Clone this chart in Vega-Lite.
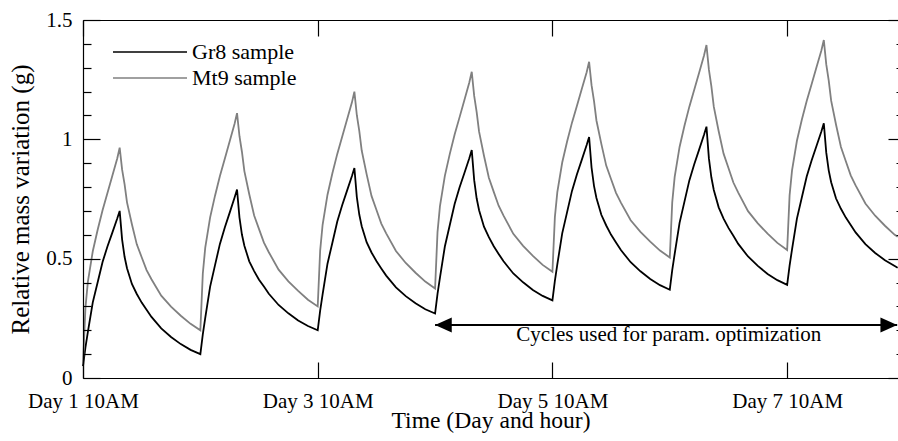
{
"$schema": "https://vega.github.io/schema/vega-lite/v6.json",
"width": 815, "height": 358,
"autosize": "none",
"padding": {"left": 83, "top": 20, "right": 0, "bottom": 63},
"background": "white",
"config": {"view": {"stroke": null}, "axis": {"grid": false}},
"datasets": {
  "mass": [
{"s":"Gr8 sample","t":0,"v":0.05},{"s":"Gr8 sample","t":0.5,"v":0.128},{"s":"Gr8 sample","t":1,"v":0.193},{"s":"Gr8 sample","t":2,"v":0.317},{"s":"Gr8 sample","t":3,"v":0.401},{"s":"Gr8 sample","t":4,"v":0.486},{"s":"Gr8 sample","t":5,"v":0.551},{"s":"Gr8 sample","t":6,"v":0.609},{"s":"Gr8 sample","t":7,"v":0.668},{"s":"Gr8 sample","t":7.5,"v":0.70},{"s":"Gr8 sample","t":8,"v":0.58},{"s":"Gr8 sample","t":8.5,"v":0.508},{"s":"Gr8 sample","t":9,"v":0.46},{"s":"Gr8 sample","t":10,"v":0.394},{"s":"Gr8 sample","t":11,"v":0.352},{"s":"Gr8 sample","t":12,"v":0.316},{"s":"Gr8 sample","t":13,"v":0.286},{"s":"Gr8 sample","t":14,"v":0.256},{"s":"Gr8 sample","t":16,"v":0.208},{"s":"Gr8 sample","t":18,"v":0.172},{"s":"Gr8 sample","t":20,"v":0.142},{"s":"Gr8 sample","t":22,"v":0.118},
{"s":"Gr8 sample","t":24,"v":0.10},{"s":"Gr8 sample","t":24.5,"v":0.183},{"s":"Gr8 sample","t":25,"v":0.252},{"s":"Gr8 sample","t":26,"v":0.383},{"s":"Gr8 sample","t":27,"v":0.473},{"s":"Gr8 sample","t":28,"v":0.562},{"s":"Gr8 sample","t":29,"v":0.631},{"s":"Gr8 sample","t":30,"v":0.693},{"s":"Gr8 sample","t":31,"v":0.756},{"s":"Gr8 sample","t":31.5,"v":0.79},{"s":"Gr8 sample","t":32,"v":0.672},{"s":"Gr8 sample","t":32.5,"v":0.601},{"s":"Gr8 sample","t":33,"v":0.554},{"s":"Gr8 sample","t":34,"v":0.489},{"s":"Gr8 sample","t":35,"v":0.448},{"s":"Gr8 sample","t":36,"v":0.412},{"s":"Gr8 sample","t":37,"v":0.383},{"s":"Gr8 sample","t":38,"v":0.353},{"s":"Gr8 sample","t":40,"v":0.306},{"s":"Gr8 sample","t":42,"v":0.271},{"s":"Gr8 sample","t":44,"v":0.241},{"s":"Gr8 sample","t":46,"v":0.218},
{"s":"Gr8 sample","t":48,"v":0.20},{"s":"Gr8 sample","t":48.5,"v":0.282},{"s":"Gr8 sample","t":49,"v":0.350},{"s":"Gr8 sample","t":50,"v":0.479},{"s":"Gr8 sample","t":51,"v":0.567},{"s":"Gr8 sample","t":52,"v":0.656},{"s":"Gr8 sample","t":53,"v":0.724},{"s":"Gr8 sample","t":54,"v":0.785},{"s":"Gr8 sample","t":55,"v":0.846},{"s":"Gr8 sample","t":55.5,"v":0.88},{"s":"Gr8 sample","t":56,"v":0.758},{"s":"Gr8 sample","t":56.5,"v":0.685},{"s":"Gr8 sample","t":57,"v":0.636},{"s":"Gr8 sample","t":58,"v":0.569},{"s":"Gr8 sample","t":59,"v":0.526},{"s":"Gr8 sample","t":60,"v":0.490},{"s":"Gr8 sample","t":61,"v":0.459},{"s":"Gr8 sample","t":62,"v":0.429},{"s":"Gr8 sample","t":64,"v":0.380},{"s":"Gr8 sample","t":66,"v":0.343},{"s":"Gr8 sample","t":68,"v":0.313},{"s":"Gr8 sample","t":70,"v":0.288},
{"s":"Gr8 sample","t":72,"v":0.27},{"s":"Gr8 sample","t":72.5,"v":0.352},{"s":"Gr8 sample","t":73,"v":0.421},{"s":"Gr8 sample","t":74,"v":0.551},{"s":"Gr8 sample","t":75,"v":0.640},{"s":"Gr8 sample","t":76,"v":0.729},{"s":"Gr8 sample","t":77,"v":0.798},{"s":"Gr8 sample","t":78,"v":0.859},{"s":"Gr8 sample","t":79,"v":0.921},{"s":"Gr8 sample","t":79.5,"v":0.955},{"s":"Gr8 sample","t":80,"v":0.829},{"s":"Gr8 sample","t":80.5,"v":0.753},{"s":"Gr8 sample","t":81,"v":0.703},{"s":"Gr8 sample","t":82,"v":0.634},{"s":"Gr8 sample","t":83,"v":0.590},{"s":"Gr8 sample","t":84,"v":0.552},{"s":"Gr8 sample","t":85,"v":0.520},{"s":"Gr8 sample","t":86,"v":0.489},{"s":"Gr8 sample","t":88,"v":0.438},{"s":"Gr8 sample","t":90,"v":0.401},{"s":"Gr8 sample","t":92,"v":0.369},{"s":"Gr8 sample","t":94,"v":0.344},
{"s":"Gr8 sample","t":96,"v":0.325},{"s":"Gr8 sample","t":96.5,"v":0.407},{"s":"Gr8 sample","t":97,"v":0.476},{"s":"Gr8 sample","t":98,"v":0.606},{"s":"Gr8 sample","t":99,"v":0.695},{"s":"Gr8 sample","t":100,"v":0.784},{"s":"Gr8 sample","t":101,"v":0.853},{"s":"Gr8 sample","t":102,"v":0.914},{"s":"Gr8 sample","t":103,"v":0.976},{"s":"Gr8 sample","t":103.5,"v":1.01},{"s":"Gr8 sample","t":104,"v":0.882},{"s":"Gr8 sample","t":104.5,"v":0.805},{"s":"Gr8 sample","t":105,"v":0.754},{"s":"Gr8 sample","t":106,"v":0.684},{"s":"Gr8 sample","t":107,"v":0.639},{"s":"Gr8 sample","t":108,"v":0.600},{"s":"Gr8 sample","t":109,"v":0.568},{"s":"Gr8 sample","t":110,"v":0.536},{"s":"Gr8 sample","t":112,"v":0.485},{"s":"Gr8 sample","t":114,"v":0.447},{"s":"Gr8 sample","t":116,"v":0.415},{"s":"Gr8 sample","t":118,"v":0.389},
{"s":"Gr8 sample","t":120,"v":0.37},{"s":"Gr8 sample","t":120.5,"v":0.452},{"s":"Gr8 sample","t":121,"v":0.520},{"s":"Gr8 sample","t":122,"v":0.650},{"s":"Gr8 sample","t":123,"v":0.739},{"s":"Gr8 sample","t":124,"v":0.828},{"s":"Gr8 sample","t":125,"v":0.896},{"s":"Gr8 sample","t":126,"v":0.957},{"s":"Gr8 sample","t":127,"v":1.019},{"s":"Gr8 sample","t":127.5,"v":1.053},{"s":"Gr8 sample","t":128,"v":0.920},{"s":"Gr8 sample","t":128.5,"v":0.841},{"s":"Gr8 sample","t":129,"v":0.788},{"s":"Gr8 sample","t":130,"v":0.715},{"s":"Gr8 sample","t":131,"v":0.668},{"s":"Gr8 sample","t":132,"v":0.629},{"s":"Gr8 sample","t":133,"v":0.596},{"s":"Gr8 sample","t":134,"v":0.562},{"s":"Gr8 sample","t":136,"v":0.509},{"s":"Gr8 sample","t":138,"v":0.470},{"s":"Gr8 sample","t":140,"v":0.436},{"s":"Gr8 sample","t":142,"v":0.410},
{"s":"Gr8 sample","t":144,"v":0.39},{"s":"Gr8 sample","t":144.5,"v":0.471},{"s":"Gr8 sample","t":145,"v":0.539},{"s":"Gr8 sample","t":146,"v":0.668},{"s":"Gr8 sample","t":147,"v":0.756},{"s":"Gr8 sample","t":148,"v":0.844},{"s":"Gr8 sample","t":149,"v":0.911},{"s":"Gr8 sample","t":150,"v":0.972},{"s":"Gr8 sample","t":151,"v":1.033},{"s":"Gr8 sample","t":151.5,"v":1.067},{"s":"Gr8 sample","t":152,"v":0.944},{"s":"Gr8 sample","t":152.5,"v":0.870},{"s":"Gr8 sample","t":153,"v":0.820},{"s":"Gr8 sample","t":154,"v":0.752},{"s":"Gr8 sample","t":155,"v":0.709},{"s":"Gr8 sample","t":156,"v":0.672},{"s":"Gr8 sample","t":157,"v":0.641},{"s":"Gr8 sample","t":158,"v":0.610},{"s":"Gr8 sample","t":160,"v":0.561},{"s":"Gr8 sample","t":162,"v":0.524},{"s":"Gr8 sample","t":164,"v":0.493},{"s":"Gr8 sample","t":166,"v":0.469},{"s":"Gr8 sample","t":166.6,"v":0.462},
{"s":"Mt9 sample","t":0,"v":0.06},{"s":"Mt9 sample","t":0.5,"v":0.295},{"s":"Mt9 sample","t":1,"v":0.404},{"s":"Mt9 sample","t":2,"v":0.531},{"s":"Mt9 sample","t":3,"v":0.621},{"s":"Mt9 sample","t":4,"v":0.703},{"s":"Mt9 sample","t":5,"v":0.775},{"s":"Mt9 sample","t":6,"v":0.847},{"s":"Mt9 sample","t":7,"v":0.920},{"s":"Mt9 sample","t":7.5,"v":0.965},{"s":"Mt9 sample","t":8,"v":0.873},{"s":"Mt9 sample","t":8.5,"v":0.812},{"s":"Mt9 sample","t":9,"v":0.736},{"s":"Mt9 sample","t":10,"v":0.644},{"s":"Mt9 sample","t":11,"v":0.560},{"s":"Mt9 sample","t":12,"v":0.506},{"s":"Mt9 sample","t":13,"v":0.452},{"s":"Mt9 sample","t":14,"v":0.414},{"s":"Mt9 sample","t":16,"v":0.345},{"s":"Mt9 sample","t":18,"v":0.299},{"s":"Mt9 sample","t":20,"v":0.261},{"s":"Mt9 sample","t":22,"v":0.227},
{"s":"Mt9 sample","t":24,"v":0.20},{"s":"Mt9 sample","t":24.5,"v":0.437},{"s":"Mt9 sample","t":25,"v":0.546},{"s":"Mt9 sample","t":26,"v":0.673},{"s":"Mt9 sample","t":27,"v":0.764},{"s":"Mt9 sample","t":28,"v":0.846},{"s":"Mt9 sample","t":29,"v":0.919},{"s":"Mt9 sample","t":30,"v":0.992},{"s":"Mt9 sample","t":31,"v":1.065},{"s":"Mt9 sample","t":31.5,"v":1.11},{"s":"Mt9 sample","t":32,"v":1.013},{"s":"Mt9 sample","t":32.5,"v":0.948},{"s":"Mt9 sample","t":33,"v":0.867},{"s":"Mt9 sample","t":34,"v":0.770},{"s":"Mt9 sample","t":35,"v":0.681},{"s":"Mt9 sample","t":36,"v":0.624},{"s":"Mt9 sample","t":37,"v":0.567},{"s":"Mt9 sample","t":38,"v":0.527},{"s":"Mt9 sample","t":40,"v":0.454},{"s":"Mt9 sample","t":42,"v":0.405},{"s":"Mt9 sample","t":44,"v":0.365},{"s":"Mt9 sample","t":46,"v":0.328},
{"s":"Mt9 sample","t":48,"v":0.30},{"s":"Mt9 sample","t":48.5,"v":0.534},{"s":"Mt9 sample","t":49,"v":0.642},{"s":"Mt9 sample","t":50,"v":0.768},{"s":"Mt9 sample","t":51,"v":0.858},{"s":"Mt9 sample","t":52,"v":0.939},{"s":"Mt9 sample","t":53,"v":1.011},{"s":"Mt9 sample","t":54,"v":1.083},{"s":"Mt9 sample","t":55,"v":1.155},{"s":"Mt9 sample","t":55.5,"v":1.20},{"s":"Mt9 sample","t":56,"v":1.101},{"s":"Mt9 sample","t":56.5,"v":1.035},{"s":"Mt9 sample","t":57,"v":0.953},{"s":"Mt9 sample","t":58,"v":0.854},{"s":"Mt9 sample","t":59,"v":0.763},{"s":"Mt9 sample","t":60,"v":0.705},{"s":"Mt9 sample","t":61,"v":0.647},{"s":"Mt9 sample","t":62,"v":0.606},{"s":"Mt9 sample","t":64,"v":0.532},{"s":"Mt9 sample","t":66,"v":0.482},{"s":"Mt9 sample","t":68,"v":0.441},{"s":"Mt9 sample","t":70,"v":0.404},
{"s":"Mt9 sample","t":72,"v":0.375},{"s":"Mt9 sample","t":72.5,"v":0.611},{"s":"Mt9 sample","t":73,"v":0.720},{"s":"Mt9 sample","t":74,"v":0.847},{"s":"Mt9 sample","t":75,"v":0.938},{"s":"Mt9 sample","t":76,"v":1.020},{"s":"Mt9 sample","t":77,"v":1.092},{"s":"Mt9 sample","t":78,"v":1.165},{"s":"Mt9 sample","t":79,"v":1.238},{"s":"Mt9 sample","t":79.5,"v":1.283},{"s":"Mt9 sample","t":80,"v":1.182},{"s":"Mt9 sample","t":80.5,"v":1.115},{"s":"Mt9 sample","t":81,"v":1.032},{"s":"Mt9 sample","t":82,"v":0.931},{"s":"Mt9 sample","t":83,"v":0.839},{"s":"Mt9 sample","t":84,"v":0.780},{"s":"Mt9 sample","t":85,"v":0.722},{"s":"Mt9 sample","t":86,"v":0.680},{"s":"Mt9 sample","t":88,"v":0.604},{"s":"Mt9 sample","t":90,"v":0.554},{"s":"Mt9 sample","t":92,"v":0.512},{"s":"Mt9 sample","t":94,"v":0.474},
{"s":"Mt9 sample","t":96,"v":0.445},{"s":"Mt9 sample","t":96.5,"v":0.674},{"s":"Mt9 sample","t":97,"v":0.779},{"s":"Mt9 sample","t":98,"v":0.903},{"s":"Mt9 sample","t":99,"v":0.991},{"s":"Mt9 sample","t":100,"v":1.070},{"s":"Mt9 sample","t":101,"v":1.140},{"s":"Mt9 sample","t":102,"v":1.211},{"s":"Mt9 sample","t":103,"v":1.281},{"s":"Mt9 sample","t":103.5,"v":1.325},{"s":"Mt9 sample","t":104,"v":1.227},{"s":"Mt9 sample","t":104.5,"v":1.161},{"s":"Mt9 sample","t":105,"v":1.079},{"s":"Mt9 sample","t":106,"v":0.981},{"s":"Mt9 sample","t":107,"v":0.890},{"s":"Mt9 sample","t":108,"v":0.833},{"s":"Mt9 sample","t":109,"v":0.776},{"s":"Mt9 sample","t":110,"v":0.735},{"s":"Mt9 sample","t":112,"v":0.661},{"s":"Mt9 sample","t":114,"v":0.612},{"s":"Mt9 sample","t":116,"v":0.571},{"s":"Mt9 sample","t":118,"v":0.534},
{"s":"Mt9 sample","t":120,"v":0.505},{"s":"Mt9 sample","t":120.5,"v":0.736},{"s":"Mt9 sample","t":121,"v":0.843},{"s":"Mt9 sample","t":122,"v":0.968},{"s":"Mt9 sample","t":123,"v":1.057},{"s":"Mt9 sample","t":124,"v":1.137},{"s":"Mt9 sample","t":125,"v":1.208},{"s":"Mt9 sample","t":126,"v":1.279},{"s":"Mt9 sample","t":127,"v":1.351},{"s":"Mt9 sample","t":127.5,"v":1.395},{"s":"Mt9 sample","t":128,"v":1.292},{"s":"Mt9 sample","t":128.5,"v":1.223},{"s":"Mt9 sample","t":129,"v":1.137},{"s":"Mt9 sample","t":130,"v":1.034},{"s":"Mt9 sample","t":131,"v":0.940},{"s":"Mt9 sample","t":132,"v":0.880},{"s":"Mt9 sample","t":133,"v":0.819},{"s":"Mt9 sample","t":134,"v":0.777},{"s":"Mt9 sample","t":136,"v":0.699},{"s":"Mt9 sample","t":138,"v":0.648},{"s":"Mt9 sample","t":140,"v":0.605},{"s":"Mt9 sample","t":142,"v":0.566},
{"s":"Mt9 sample","t":144,"v":0.536},{"s":"Mt9 sample","t":144.5,"v":0.765},{"s":"Mt9 sample","t":145,"v":0.870},{"s":"Mt9 sample","t":146,"v":0.994},{"s":"Mt9 sample","t":147,"v":1.082},{"s":"Mt9 sample","t":148,"v":1.161},{"s":"Mt9 sample","t":149,"v":1.231},{"s":"Mt9 sample","t":150,"v":1.302},{"s":"Mt9 sample","t":151,"v":1.372},{"s":"Mt9 sample","t":151.5,"v":1.416},{"s":"Mt9 sample","t":152,"v":1.314},{"s":"Mt9 sample","t":152.5,"v":1.247},{"s":"Mt9 sample","t":153,"v":1.162},{"s":"Mt9 sample","t":154,"v":1.061},{"s":"Mt9 sample","t":155,"v":0.968},{"s":"Mt9 sample","t":156,"v":0.908},{"s":"Mt9 sample","t":157,"v":0.849},{"s":"Mt9 sample","t":158,"v":0.807},{"s":"Mt9 sample","t":160,"v":0.731},{"s":"Mt9 sample","t":162,"v":0.680},{"s":"Mt9 sample","t":164,"v":0.638},{"s":"Mt9 sample","t":166,"v":0.600},{"s":"Mt9 sample","t":166.6,"v":0.592}
  ],
  "arrow": [{"a": 72, "b": 166.5, "m": 119.8, "y": 0.222, "label": "Cycles used for param. optimization"}]
},
"layer": [
  {
    "data": {"name": "mass"},
    "mark": {"type": "line", "strokeWidth": 1.8},
    "encoding": {
      "x": {"field": "t", "type": "quantitative",
        "scale": {"domain": [0, 166.67], "nice": false, "zero": false},
        "axis": {"orient": "bottom", "zindex": 1, "values": [0, 48, 96, 144], "labelExpr": "'Day ' + (datum.value/24+1) + ' 10AM'", "tickSize": -16, "tickColor": "#000000", "tickWidth": 1.2, "domainColor": "#000000", "domainWidth": 1.2, "labelPadding": 28, "labelFont": "Liberation Serif", "labelColor": "#000000", "labelFontSize": 21, "labelFlush": false, "labelOverlap": false, "title": "Time (Day and hour)", "titleFont": "Liberation Serif", "titleFontWeight": "normal", "titleColor": "#000000", "titleFontSize": 23.6, "titlePadding": -3}},
      "y": {"field": "v", "type": "quantitative",
        "scale": {"domain": [0, 1.5], "nice": false, "zero": false},
        "axis": {"orient": "left", "zindex": 1, "values": [0, 0.5, 1, 1.5], "format": "~g", "tickSize": -17, "tickColor": "#000000", "tickWidth": 1.2, "domainColor": "#000000", "domainWidth": 1.2, "labelPadding": 28, "labelFont": "Liberation Serif", "labelColor": "#000000", "labelFontSize": 21, "labelFlush": false, "labelOverlap": false, "title": "Relative mass variation (g)", "titleFont": "Liberation Serif", "titleFontWeight": "normal", "titleColor": "#000000", "titleFontSize": 25, "titlePadding": 12}},
      "color": {"field": "s", "type": "nominal",
        "scale": {"domain": ["Gr8 sample", "Mt9 sample"], "range": ["#000000", "#808080"]},
        "legend": {"orient": "none", "legendX": 56, "legendY": 21, "title": null, "padding": 0,
          "symbolType": "M-3.7,0H3.7", "symbolSize": 400, "symbolStrokeWidth": 1.3,
          "labelFont": "Liberation Serif", "labelFontSize": 22, "labelColor": "#000000", "labelOffset": 31, "rowPadding": 4}}
    }
  },
  {
    "data": {"name": "arrow"},
    "mark": {"type": "rule", "strokeWidth": 2, "color": "#000000"},
    "encoding": {
      "x": {"field": "a", "type": "quantitative",
        "scale": {"domain": [0, 166.67], "nice": false, "zero": false},
        "axis": {"orient": "top", "zindex": 1, "values": [0, 48, 96, 144], "labels": false, "tickSize": -16, "tickColor": "#000000", "tickWidth": 1.2, "domainColor": "#000000", "domainWidth": 1.2, "title": null}},
      "x2": {"field": "b"},
      "y": {"field": "y", "type": "quantitative",
        "scale": {"domain": [0, 1.5], "nice": false, "zero": false},
        "axis": {"orient": "left", "zindex": 1, "values": [0.1, 0.2, 0.3, 0.4, 0.6, 0.7, 0.8, 0.9, 1.1, 1.2, 1.3, 1.4], "labels": false, "domain": false, "title": null, "tickSize": -8, "tickColor": "#000000", "tickWidth": 1.2}}
    }
  },
  {
    "data": {"name": "arrow"},
    "mark": {"type": "text", "fontSize": 21, "font": "Liberation Serif", "color": "#000000", "align": "center", "baseline": "middle", "dy": 10},
    "encoding": {
      "x": {"field": "m", "type": "quantitative", "axis": null},
      "y": {"field": "y", "type": "quantitative",
        "axis": {"orient": "right", "zindex": 1, "values": [0, 0.5, 1, 1.5], "labels": false, "domain": false, "title": null, "tickSize": -10, "tickColor": "#000000", "tickWidth": 1.2}},
      "text": {"field": "label"}
    }
  },
  {
    "data": {"name": "arrow"},
    "transform": [{"fold": ["a", "b"], "as": ["end", "pos"]}],
    "mark": {"type": "point", "size": 279, "filled": true, "color": "#000000", "opacity": 1, "strokeWidth": 0},
    "encoding": {
      "x": {"field": "pos", "type": "quantitative", "axis": null},
      "y": {"field": "y", "type": "quantitative",
        "axis": {"orient": "right", "zindex": 1, "values": [0.1, 0.2, 0.3, 0.4, 0.6, 0.7, 0.8, 0.9, 1.1, 1.2, 1.3, 1.4], "labels": false, "domain": false, "title": null, "tickSize": -2, "tickColor": "#000000", "tickWidth": 1.2}},
      "shape": {"field": "end", "type": "nominal", "scale": {"domain": ["a", "b"], "range": ["M0,0L2,-0.9L2,0.9Z", "M0,0L-2,-0.9L-2,0.9Z"]}, "legend": null}
    }
  }
],
"resolve": {"axis": {"x": "independent", "y": "independent"}}
}
